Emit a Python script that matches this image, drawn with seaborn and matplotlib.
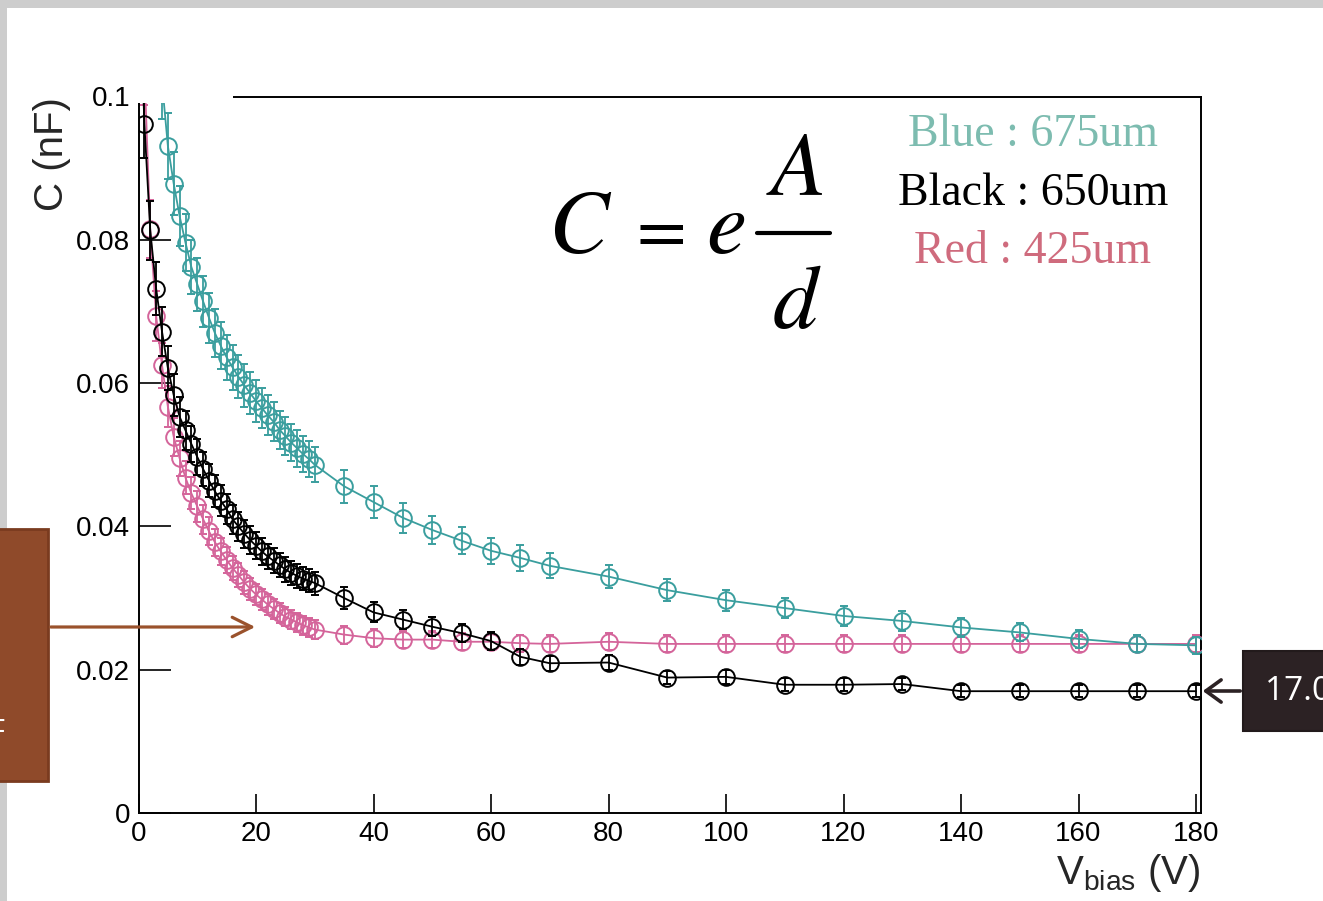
import matplotlib
matplotlib.use("Agg")
import matplotlib.pyplot as plt
import numpy as np
import pandas as pd
import seaborn as sns
from matplotlib.patches import Rectangle, FancyArrowPatch
from matplotlib.lines import Line2D

# ---- measured C-V data -------------------------------------------------
v_fine_black = list(range(0, 31))
v_fine_red = list(range(1, 31))
v_fine_teal = list(range(4, 31))
v_coarse = [35, 40, 45, 50, 55, 60, 65, 70, 80, 90, 100, 110, 120, 130, 140,
            150, 160, 170, 180]

# 650 um sensor (black)
c_black = [0.120, 0.0962, 0.0813, 0.0732, 0.0672, 0.0621, 0.0583, 0.0553,
           0.0534, 0.0515, 0.0497, 0.0480, 0.0464, 0.0449, 0.0436, 0.0424,
           0.0410, 0.0400, 0.0390, 0.0381, 0.0373, 0.0365, 0.0358, 0.0352,
           0.0346, 0.0340, 0.0335, 0.0331, 0.0327, 0.0324, 0.0321,
           0.0300, 0.0280, 0.0270, 0.0260, 0.0251, 0.0240, 0.0218, 0.0209,
           0.0210, 0.0189, 0.0190, 0.0179, 0.0179, 0.0180, 0.0170, 0.0170,
           0.0170, 0.0170, 0.0170]

# 425 um sensor (red)
c_red = [0.104, 0.0815, 0.0694, 0.0625, 0.0567, 0.0525, 0.0495, 0.0468,
         0.0446, 0.0428, 0.0410, 0.0393, 0.0378, 0.0365, 0.0353, 0.0342,
         0.0332, 0.0322, 0.0313, 0.0305, 0.0298, 0.0291, 0.0285, 0.0279,
         0.0274, 0.0270, 0.0266, 0.0262, 0.0259, 0.0256,
         0.0249, 0.0244, 0.0242, 0.0242, 0.0239, 0.0239, 0.0237, 0.0236,
         0.0239, 0.0236, 0.0236, 0.0236, 0.0236, 0.0236, 0.0236, 0.0236,
         0.0236, 0.0236, 0.0236]

# 675 um sensor (blue)
c_teal = [0.102, 0.0931, 0.0878, 0.0833, 0.0796, 0.0762, 0.0738, 0.0714,
          0.0691, 0.0670, 0.0652, 0.0636, 0.0622, 0.0609, 0.0597, 0.0586,
          0.0575, 0.0565, 0.0555, 0.0546, 0.0535, 0.0526, 0.0517, 0.0509,
          0.0501, 0.0494, 0.0486,
          0.0456, 0.0434, 0.0412, 0.0395, 0.0380, 0.0366, 0.0356, 0.0345,
          0.0330, 0.0311, 0.0297, 0.0286, 0.0275, 0.0268, 0.0259, 0.0252,
          0.0243, 0.0236, 0.0234]

REL_ERR = 0.05  # relative uncertainty on each capacitance point

x_ticks = [0, 20, 40, 60, 80, 100, 120, 140, 160, 180]
y_ticks = [0, 0.02, 0.04, 0.06, 0.08, 0.1]
y_tick_labels = ["0", "0.02", "0.04", "0.06", "0.08", "0.1"]

series = [
    ("425um", v_fine_red + v_coarse, c_red, "#d4649a", 3),
    ("650um", v_fine_black + v_coarse, c_black, "#000000", 4),
    ("675um", v_fine_teal + v_coarse, c_teal, "#3a9e9e", 5),
]

# ---- figure ------------------------------------------------------------
W, H = 1323, 901
sns.set_style("white")
plt.rcParams["font.family"] = ["Liberation Sans", "DejaVu Sans"]
plt.rcParams["mathtext.fontset"] = "custom"
plt.rcParams["mathtext.rm"] = "Liberation Sans"
plt.rcParams["mathtext.it"] = "Liberation Sans:italic"

fig = plt.figure(figsize=(W / 100, H / 100), dpi=100)
fig.patch.set_facecolor("white")


def fx(x):
    return x / W


def fy(y):
    return 1 - y / H


ax = fig.add_axes([fx(138.5), fy(813), fx(1201) - fx(138.5), fy(96.5) - fy(813)])
ax.set_facecolor("white")

for name, v, c, col, z in series:
    df = pd.DataFrame({"V": v, "C": c})
    sns.lineplot(data=df, x="V", y="C", ax=ax, color=col, lw=1.3,
                 marker="o", markersize=12, markerfacecolor="none",
                 markeredgecolor=col, markeredgewidth=1.4,
                 estimator=None, sort=False, zorder=z)
    ax.errorbar(df["V"], df["C"], yerr=REL_ERR * df["C"], fmt="none",
                ecolor=col, elinewidth=1.3, capsize=3.2, capthick=1.4,
                zorder=z)

ax.set_xlim(0, 180.85)
ax.set_ylim(0, 0.1)
ax.set_xticks(x_ticks)
ax.set_xticklabels([str(t) for t in x_ticks])
ax.set_yticks(y_ticks)
ax.set_yticklabels(y_tick_labels)
ax.set_xlabel("")
ax.set_ylabel("")
ax.tick_params(axis="both", direction="in", labelsize=20, width=1.2,
               colors="black", left=True, bottom=True, right=False, top=False)
ax.tick_params(axis="y", length=23, pad=6)
ax.tick_params(axis="x", length=14, pad=6)
for side in ["left", "bottom", "right", "top"]:
    ax.spines[side].set_visible(True)
    ax.spines[side].set_color("black")
    ax.spines[side].set_linewidth(1.4)
ax.spines["top"].set_bounds(16.1, 180.85)
ax.spines["left"].set_bounds(0, 0.0991)

# white patch over the upper-left corner of the frame
fig.add_artist(Rectangle((fx(135), fy(103)), fx(233) - fx(135), fy(88) - fy(103),
                         transform=fig.transFigure, facecolor="white",
                         edgecolor="none", zorder=10))

# axis titles
fig.text(fx(1200), fy(884), r"V$_{\mathrm{bias}}$ (V)", ha="right",
         va="baseline", fontsize=29)
fig.text(fx(52), fy(97), "C (nF)", rotation=90, ha="center", va="top",
         fontsize=29)

# formula C = e A/d, set glyph by glyph
fml = dict(math_fontfamily="stix", color="black")
fig.text(fx(548), fy(253), r"$C$", ha="left", va="baseline", fontsize=65, **fml)
fig.text(fx(655), fy(232), r"$=$", ha="center", va="center", fontsize=52, **fml)
fig.text(fx(726), fy(253), r"$e$", ha="center", va="baseline", fontsize=65, **fml)
fig.text(fx(795), fy(195), r"$A$", ha="center", va="baseline", fontsize=65, **fml)
fig.text(fx(797), fy(328), r"$d$", ha="center", va="baseline", fontsize=65, **fml)
fig.add_artist(Line2D([fx(757), fx(830)], [fy(233), fy(233)],
                      transform=fig.transFigure, color="black", lw=3.0))

# thickness key
key_font = ["Liberation Serif", "DejaVu Serif"]
fig.text(fx(1033), fy(135), "Blue : 675um", ha="center", va="center",
         fontsize=33, color="#7dbcb0", family=key_font)
fig.text(fx(1033), fy(194), "Black : 650um", ha="center", va="center",
         fontsize=33, color="black", family=key_font)
fig.text(fx(1033), fy(252), "Red : 425um", ha="center", va="center",
         fontsize=33, color="#cf6b7d", family=key_font)

# slide frame
fig.add_artist(Rectangle((0, fy(8)), 1, fy(0) - fy(8), transform=fig.transFigure,
                         facecolor="#cdcdcd", edgecolor="none", zorder=0))
fig.add_artist(Rectangle((0, 0), fx(7), 1, transform=fig.transFigure,
                         facecolor="#cdcdcd", edgecolor="none", zorder=0))

# callout boxes with arrows
fig.add_artist(Rectangle((fx(-4), fy(781)), fx(48) - fx(-4), fy(529) - fy(781),
                         transform=fig.transFigure, facecolor="#8f4a2a",
                         edgecolor="#7a3b1f", lw=2, zorder=11))
fig.text(fx(6), fy(733), "pF", ha="right", va="center", fontsize=22,
         color="white", zorder=12)
fig.add_artist(FancyArrowPatch((fx(48), fy(627)), (fx(258), fy(627)),
                               transform=fig.transFigure,
                               arrowstyle="->,head_length=14,head_width=7",
                               color="#9a522c", lw=2.3, zorder=11))

fig.add_artist(Rectangle((fx(1243), fy(731)), fx(1330) - fx(1243), fy(651) - fy(731),
                         transform=fig.transFigure, facecolor="#2c2224",
                         edgecolor="#221a1b", lw=1.5, zorder=11))
fig.text(fx(1265), fy(691), "17.0 pF", ha="left", va="center", fontsize=24,
         color="white", family=["Open Sans", "DejaVu Sans"], zorder=12)
fig.add_artist(FancyArrowPatch((fx(1243), fy(691)), (fx(1200), fy(691)),
                               transform=fig.transFigure,
                               arrowstyle="->,head_length=11,head_width=8",
                               color="#2c2224", lw=2.6, zorder=11))

fig.savefig("out.png", dpi=100, facecolor="white")
